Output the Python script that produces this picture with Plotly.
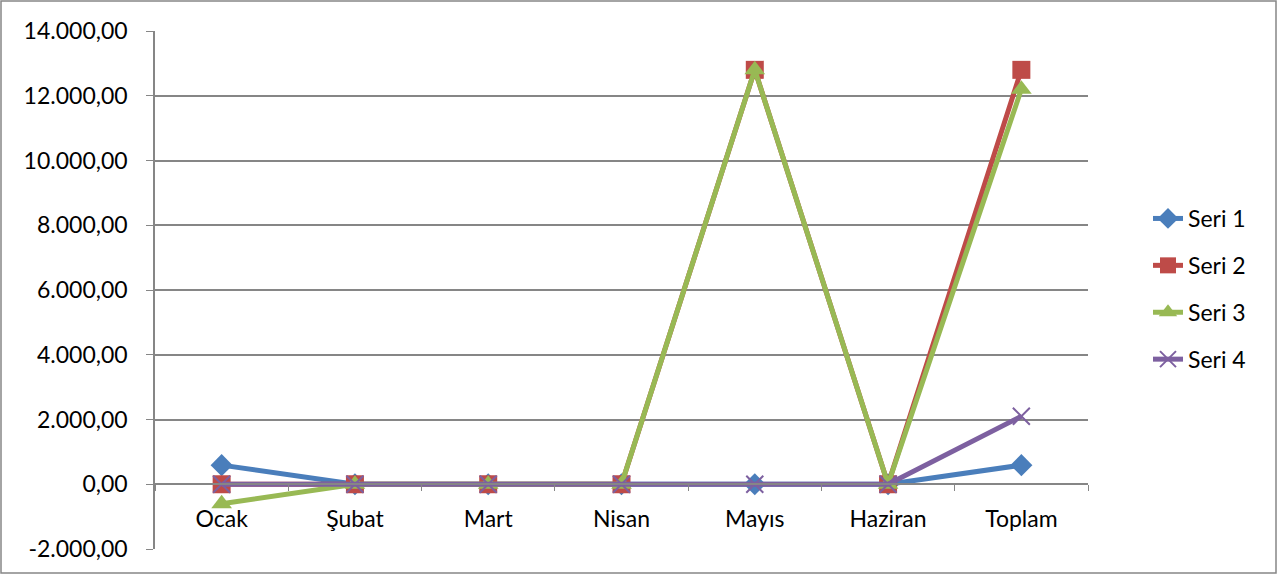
import plotly.graph_objects as go

categories = ["Ocak", "Şubat", "Mart", "Nisan", "Mayıs", "Haziran", "Toplam"]
seri1 = [590, 0, 0, 0, 0, 0, 590]
seri2 = [0, 0, 0, 0, 12800, 0, 12800]
seri3 = [-600, 0, 0, 0, 12800, 0, 12200]
seri4 = [0, 0, 0, 0, 0, 0, 2100]
series_names = ["Seri 1", "Seri 2", "Seri 3", "Seri 4"]
y_tickvals = [-2000, 0, 2000, 4000, 6000, 8000, 10000, 12000, 14000]
y_ticktext = ["-2.000,00", "0,00", "2.000,00", "4.000,00", "6.000,00",
              "8.000,00", "10.000,00", "12.000,00", "14.000,00"]

colors = ["#4A7EBB", "#BE4B48", "#98B954", "#7D60A0"]
symbols = ["diamond", "square", "triangle-up", "x-thin"]
sizes = [17, 18, 18, 17]
FONT = "Lato, 'Open Sans', sans-serif"
FS = 23

fig = go.Figure()
for i, (name, vals) in enumerate(zip(series_names, [seri1, seri2, seri3, seri4])):
    marker = dict(symbol=symbols[i], size=sizes[i], color=colors[i])
    if symbols[i] == "x-thin":
        marker["line"] = dict(color=colors[i], width=2)
    fig.add_trace(go.Scatter(
        x=categories, y=vals, name=name, mode="lines+markers",
        line=dict(color=colors[i], width=5), marker=marker,
        legendgroup=name,
    ))

W, H = 1279, 575
L, R, T, B = 155, 191, 31, 26
pw, ph = W - L - R, H - T - B

def px_x(x):
    return (x - L) / pw

def px_y(y):
    return (H - B - y) / ph

fig.update_layout(
    width=W, height=H,
    margin=dict(l=L, r=R, t=T, b=B),
    paper_bgcolor="white", plot_bgcolor="white",
    font=dict(family=FONT, size=FS, color="black"),
    showlegend=True,
    legend=dict(x=px_x(1148), y=px_y(289), xanchor="left", yanchor="middle",
                font=dict(size=FS), tracegroupgap=14, bgcolor="rgba(0,0,0,0)"),
    xaxis=dict(
        type="category", range=[-0.5, 6.5], anchor="free", position=0.125,
        showline=True, linecolor="#868686", linewidth=1.5,
        ticks="outside", tickson="boundaries", ticklen=6, tickcolor="#868686",
        ticklabelstandoff=14, showgrid=False, tickfont=dict(size=FS),
    ),
    yaxis=dict(
        range=[-2000, 14000], tickvals=y_tickvals, ticktext=y_ticktext,
        showline=True, linecolor="#868686", linewidth=1.5,
        ticks="outside", ticklen=7, tickcolor="#868686",
        showgrid=True, gridcolor="#868686", gridwidth=1.5, zeroline=False,
        ticklabelstandoff=14, tickfont=dict(size=FS),
    ),
    shapes=[dict(type="rect", xref="paper", yref="paper",
                 x0=px_x(1), x1=px_x(1276), y0=px_y(573), y1=px_y(1),
                 line=dict(color="#868686", width=1.5), fillcolor="rgba(0,0,0,0)",
                 layer="below")],
)

fig.write_html("out.html", config={"displayModeBar": False},
               post_script="document.body.style.margin='0';")
